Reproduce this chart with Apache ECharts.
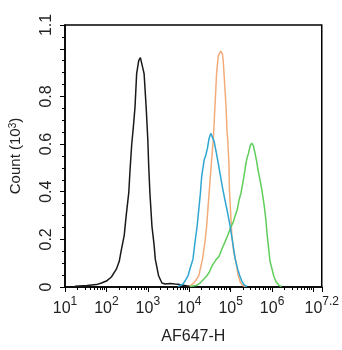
<!DOCTYPE html>
<html><head><meta charset="utf-8">
<script src="https://cdn.jsdelivr.net/npm/echarts@6/dist/echarts.min.js"></script>
<style>html,body{margin:0;padding:0;background:#fff}#c{width:342px;height:350px}</style>
</head><body><div id="c"></div>
<script>
// x positions are read as log10(AF647-H); counts in units of 10^3
const blackLogX = [1.24,1.53,1.76,1.88,2.00,2.12,2.24,2.31,2.35,2.43,2.48,2.54,2.57,2.61,2.65,2.69,2.73,2.78,2.82,2.85,2.91,2.96,3.00,3.02,3.05,3.10,3.15,3.18,3.26,3.34,3.42,3.54,3.65,3.77,3.89,4.01];
const blackCount = [0.003,0.006,0.010,0.017,0.025,0.042,0.075,0.108,0.146,0.217,0.304,0.396,0.49,0.596,0.671,0.754,0.896,0.95,0.963,0.958,0.896,0.754,0.617,0.513,0.396,0.254,0.179,0.117,0.047,0.017,0.0125,0.015,0.0125,0.010,0.006,0.002];

const orangeLogX = [3.96,4.05,4.13,4.23,4.32,4.38,4.42,4.48,4.54,4.58,4.62,4.66,4.70,4.76,4.80,4.82,4.84,4.89,4.91,4.93,4.96,4.97,5.00,5.03,5.07,5.13,5.18,5.23,5.29,5.36];
const orangeCount = [0.002,0.008,0.021,0.047,0.117,0.19,0.255,0.395,0.533,0.617,0.755,0.895,0.97,0.99,0.98,0.95,0.895,0.755,0.658,0.617,0.513,0.408,0.3125,0.214,0.15,0.104,0.05,0.021,0.006,0.002];

const blueLogX = [3.73,3.85,3.91,3.97,4.03,4.09,4.14,4.19,4.23,4.27,4.30,4.36,4.40,4.44,4.48,4.52,4.55,4.60,4.65,4.70,4.75,4.80,4.86,4.92,4.98,5.05,5.11,5.17,5.22,5.27,5.33,5.40];
const blueCount = [0.002,0.0125,0.029,0.047,0.083,0.117,0.19,0.255,0.325,0.395,0.464,0.533,0.554,0.583,0.625,0.645,0.6375,0.6125,0.567,0.52,0.47,0.42,0.367,0.317,0.2625,0.186,0.117,0.075,0.047,0.025,0.008,0.002];

const greenLogX = [4.01,4.17,4.25,4.32,4.41,4.48,4.56,4.65,4.72,4.80,4.86,4.93,5.00,5.06,5.11,5.16,5.20,5.25,5.29,5.32,5.36,5.39,5.43,5.47,5.51,5.55,5.59,5.63,5.66,5.71,5.76,5.81,5.85,5.88,5.92,5.95,6.00,6.04,6.10,6.17,6.23];
const greenCount = [0.002,0.006,0.015,0.027,0.044,0.061,0.092,0.115,0.129,0.165,0.1875,0.217,0.25,0.271,0.30,0.325,0.3625,0.395,0.433,0.464,0.508,0.5375,0.561,0.592,0.604,0.592,0.561,0.525,0.492,0.45,0.40,0.342,0.283,0.221,0.158,0.108,0.075,0.046,0.021,0.006,0.002];

const xMinExp = 1, xMaxExp = 7.2;
const yLabelValues = [0, 0.2, 0.4, 0.6, 0.8, 1.1];
const yMajorTicks = [0, 0.2, 0.4, 0.6, 0.8, 1.0, 1.1];
const minorMultipliers = [2,3,4,5,6,7,8,9];

function toPairs(lx, c) { return lx.map((e, i) => [Math.pow(10, e), c[i]]); }

const xMinor = [];
for (let d = 1; d <= 6; d++) for (const m of minorMultipliers) { const v = d + Math.log10(m); if (v < xMaxExp) xMinor.push(v); }
const yMinor = [];
for (let i = 1; i <= 21; i++) yMinor.push(+(i * 0.05).toFixed(2));

const FONT = 'Liberation Sans, Arial, sans-serif';
const chart = echarts.init(document.getElementById('c'), null, {renderer: 'canvas'});
chart.setOption({
  animation: false,
  backgroundColor: '#fff',
  grid: {left: 63, right: 17, top: 25, bottom: 62, show: true, borderColor: '#000', borderWidth: 1.5, backgroundColor: 'transparent'},
  xAxis: [{
    type: 'log', logBase: 10, min: Math.pow(10, xMinExp), max: Math.pow(10, xMaxExp),
    name: 'AF647-H', nameLocation: 'middle', nameGap: 42,
    nameTextStyle: {fontSize: 16, color: '#222', fontFamily: FONT},
    axisLine: {show: true, lineStyle: {color: '#000', width: 1.5}},
    axisTick: {show: true, length: 5, lineStyle: {color: '#000', width: 1}},
    splitLine: {show: false}, minorTick: {show: false},
    axisLabel: {
      margin: 9, color: '#222', fontFamily: FONT,
      formatter: function (v) {
        const e = Math.round(Math.log10(v) * 10) / 10;
        if (e === 7) return '';
        return '{b|10}{s|' + e + '}';
      },
      rich: {b: {fontSize: 16, lineHeight: 21, color: '#222', fontFamily: FONT, verticalAlign: 'bottom'},
             s: {fontSize: 12, lineHeight: 13, color: '#222', fontFamily: FONT, verticalAlign: 'top'}}
    }
  }, {
    type: 'value', min: xMinExp, max: xMaxExp, position: 'bottom', gridIndex: 0,
    axisLine: {show: false}, splitLine: {show: false}, axisLabel: {show: false},
    axisTick: {show: true, length: 3, customValues: xMinor, lineStyle: {color: '#000', width: 1}}
  }],
  yAxis: [{
    type: 'value', min: 0, max: 1.1,
    name: 'Count (10{s|3})', nameLocation: 'middle', nameGap: 42, nameRotate: 90,
    nameTextStyle: {fontSize: 15, color: '#222', fontFamily: FONT,
      rich: {s: {fontSize: 10, color: '#222', fontFamily: FONT, verticalAlign: 'top', lineHeight: 10}}},
    axisLine: {show: true, lineStyle: {color: '#000', width: 1.5}},
    axisTick: {show: true, length: 5, customValues: yMajorTicks, lineStyle: {color: '#000', width: 1}},
    splitLine: {show: false},
    axisLabel: {
      customValues: yLabelValues, rotate: 90, margin: 10, fontSize: 16, color: '#222', fontFamily: FONT,
      formatter: function (v) { return String(+(+v).toFixed(1)); }
    }
  }, {
    type: 'value', min: 0, max: 1.1, position: 'left', gridIndex: 0,
    axisLine: {show: false}, splitLine: {show: false}, axisLabel: {show: false},
    axisTick: {show: true, length: 3, customValues: yMinor, lineStyle: {color: '#000', width: 1}}
  }],
  series: [
    {type: 'line', data: toPairs(blackLogX, blackCount), showSymbol: false, lineStyle: {color: '#1a1a1a', width: 1.5}, itemStyle: {color: '#1a1a1a'}, z: 3},
    {type: 'line', data: toPairs(orangeLogX, orangeCount), showSymbol: false, lineStyle: {color: '#f3ab7a', width: 1.5}, itemStyle: {color: '#f3ab7a'}, z: 2},
    {type: 'line', data: toPairs(greenLogX, greenCount), showSymbol: false, lineStyle: {color: '#5fce5a', width: 1.5}, itemStyle: {color: '#5fce5a'}, z: 2},
    {type: 'line', data: toPairs(blueLogX, blueCount), showSymbol: false, lineStyle: {color: '#2fa6d2', width: 1.5}, itemStyle: {color: '#2fa6d2'}, z: 4}
  ]
});
</script></body></html>
